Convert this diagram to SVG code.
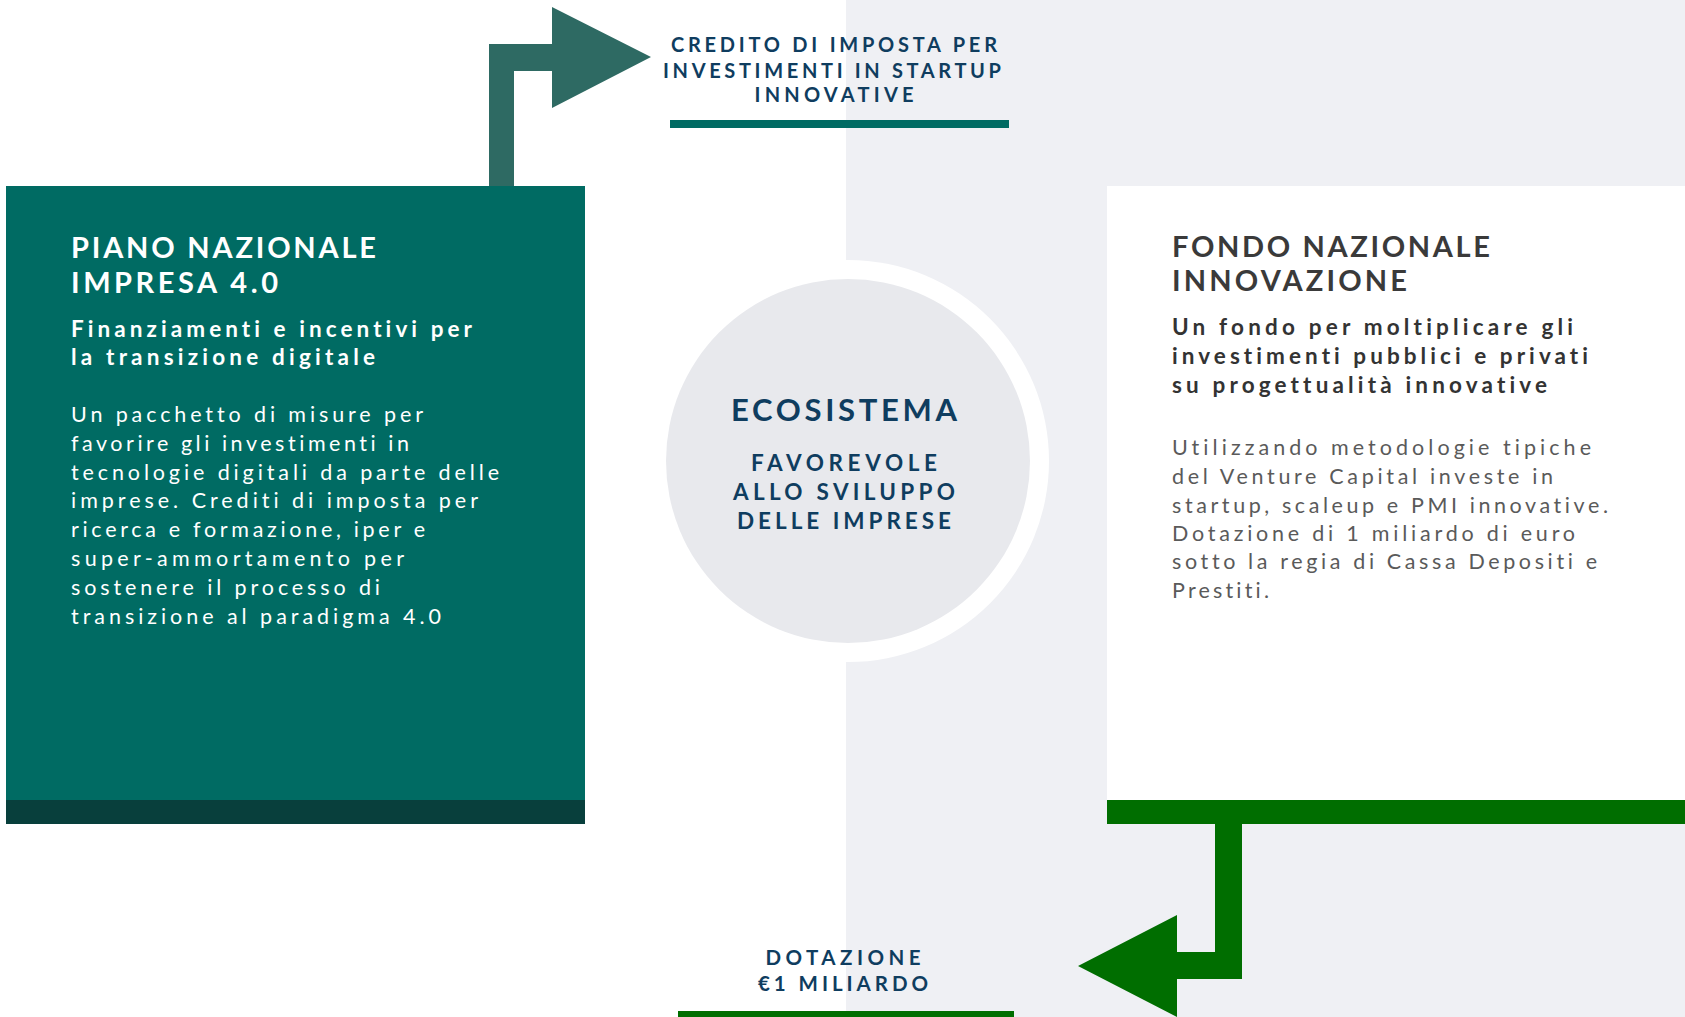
<svg xmlns="http://www.w3.org/2000/svg" width="1685" height="1017" viewBox="0 0 1685 1017">
<style>
text{font-family:Lato,"Open Sans","DejaVu Sans",sans-serif;font-variant-ligatures:none;font-feature-settings:"liga" 0,"clig" 0}
.navy{fill:#0F3D5F;font-weight:700}
.wt{fill:#ffffff;font-size:29px;font-weight:700}
.ws{fill:#ffffff;font-size:22.5px;font-weight:700}
.wb{fill:#ffffff;font-size:21.5px;font-weight:400}
.dt{fill:#3A3A3A;font-size:29px;font-weight:700}
.ds{fill:#333333;font-size:22.5px;font-weight:700}
.db{fill:#5A5A5A;font-size:21.5px;font-weight:400}
</style>
<rect x="0" y="0" width="1685" height="1017" fill="#ffffff"/>
<rect x="846" y="0" width="839" height="1017" fill="#EFF0F4"/>

<g id="connectors">
  <path d="M489,186 V44 H552 V7 L651,57 L552,108 V71 H514 V186 Z" fill="#2E6A63"/>
  <path d="M1242,824 V979 H1177 V1017 L1078,966 L1177,915 V952 H1215 V824 Z" fill="#006E00"/>
</g>

<g id="node-ecosistema">
  <circle cx="848" cy="461" r="201" fill="#ffffff"/>
  <circle cx="848" cy="461" r="182" fill="#E8E9ED"/>
  <text class="navy" x="844" y="421" font-size="31" text-anchor="middle" textLength="226" lengthAdjust="spacing">ECOSISTEMA</text>
  <text class="navy" x="844" y="471" font-size="22.5" text-anchor="middle" textLength="186" lengthAdjust="spacing">FAVOREVOLE</text>
  <text class="navy" x="844" y="500" font-size="22.5" text-anchor="middle" textLength="222" lengthAdjust="spacing">ALLO SVILUPPO</text>
  <text class="navy" x="844" y="529" font-size="22.5" text-anchor="middle" textLength="214" lengthAdjust="spacing">DELLE IMPRESE</text>
</g>

<g id="node-piano">
  <rect x="6" y="186" width="579" height="638" fill="#006B63"/>
  <rect x="6" y="800" width="579" height="24" fill="#083F3C"/>
  <text class="wt" x="71" y="258" textLength="305" lengthAdjust="spacing">PIANO NAZIONALE</text>
  <text class="wt" x="71" y="293" textLength="207" lengthAdjust="spacing">IMPRESA 4.0</text>
  <text class="ws" x="71" y="337" textLength="401" lengthAdjust="spacing">Finanziamenti e incentivi per</text>
  <text class="ws" x="71" y="365" textLength="304" lengthAdjust="spacing">la transizione digitale</text>
  <text class="wb" x="71" y="422" textLength="352" lengthAdjust="spacing">Un pacchetto di misure per</text>
  <text class="wb" x="71" y="451" textLength="338" lengthAdjust="spacing">favorire gli investimenti in</text>
  <text class="wb" x="71" y="480" textLength="428" lengthAdjust="spacing">tecnologie digitali da parte delle</text>
  <text class="wb" x="71" y="508" textLength="407" lengthAdjust="spacing">imprese. Crediti di imposta per</text>
  <text class="wb" x="71" y="537" textLength="354" lengthAdjust="spacing">ricerca e formazione, iper e</text>
  <text class="wb" x="71" y="566" textLength="333" lengthAdjust="spacing">super-ammortamento per</text>
  <text class="wb" x="71" y="595" textLength="309" lengthAdjust="spacing">sostenere il processo di</text>
  <text class="wb" x="71" y="624" textLength="370" lengthAdjust="spacing">transizione al paradigma 4.0</text>
</g>

<g id="node-fondo">
  <rect x="1107" y="186" width="578" height="614" fill="#ffffff"/>
  <rect x="1107" y="800" width="578" height="24" fill="#006E00"/>
  <text class="dt" x="1172" y="257" textLength="318" lengthAdjust="spacing">FONDO NAZIONALE</text>
  <text class="dt" x="1172" y="291" textLength="235" lengthAdjust="spacing">INNOVAZIONE</text>
  <text class="ds" x="1172" y="335" textLength="401" lengthAdjust="spacing">Un fondo per moltiplicare gli</text>
  <text class="ds" x="1172" y="364" textLength="416" lengthAdjust="spacing">investimenti pubblici e privati</text>
  <text class="ds" x="1172" y="393" textLength="375" lengthAdjust="spacing">su progettualità innovative</text>
  <text class="db" x="1172" y="455" textLength="419" lengthAdjust="spacing">Utilizzando metodologie tipiche</text>
  <text class="db" x="1172" y="484" textLength="381" lengthAdjust="spacing">del Venture Capital investe in</text>
  <text class="db" x="1172" y="513" textLength="436" lengthAdjust="spacing">startup, scaleup e PMI innovative.</text>
  <text class="db" x="1172" y="541" textLength="403" lengthAdjust="spacing">Dotazione di 1 miliardo di euro</text>
  <text class="db" x="1172" y="569" textLength="425" lengthAdjust="spacing">sotto la regia di Cassa Depositi e</text>
  <text class="db" x="1172" y="598" textLength="97" lengthAdjust="spacing">Prestiti.</text>
</g>

<g id="node-credito">
  <text class="navy" x="834" y="52" font-size="20" text-anchor="middle" textLength="326" lengthAdjust="spacing">CREDITO DI IMPOSTA PER</text>
  <text class="navy" x="832" y="78" font-size="20" text-anchor="middle" textLength="338" lengthAdjust="spacing">INVESTIMENTI IN STARTUP</text>
  <text class="navy" x="834" y="102" font-size="20" text-anchor="middle" textLength="159" lengthAdjust="spacing">INNOVATIVE</text>
  <rect x="670" y="120" width="339" height="8" fill="#006B63"/>
</g>

<g id="node-dotazione">
  <text class="navy" x="843" y="965" font-size="20.5" text-anchor="middle" textLength="155" lengthAdjust="spacing">DOTAZIONE</text>
  <text class="navy" x="843" y="991" font-size="20.5" text-anchor="middle" textLength="170" lengthAdjust="spacing">€1 MILIARDO</text>
  <rect x="678" y="1011" width="336" height="6" fill="#006E00"/>
</g>
</svg>
